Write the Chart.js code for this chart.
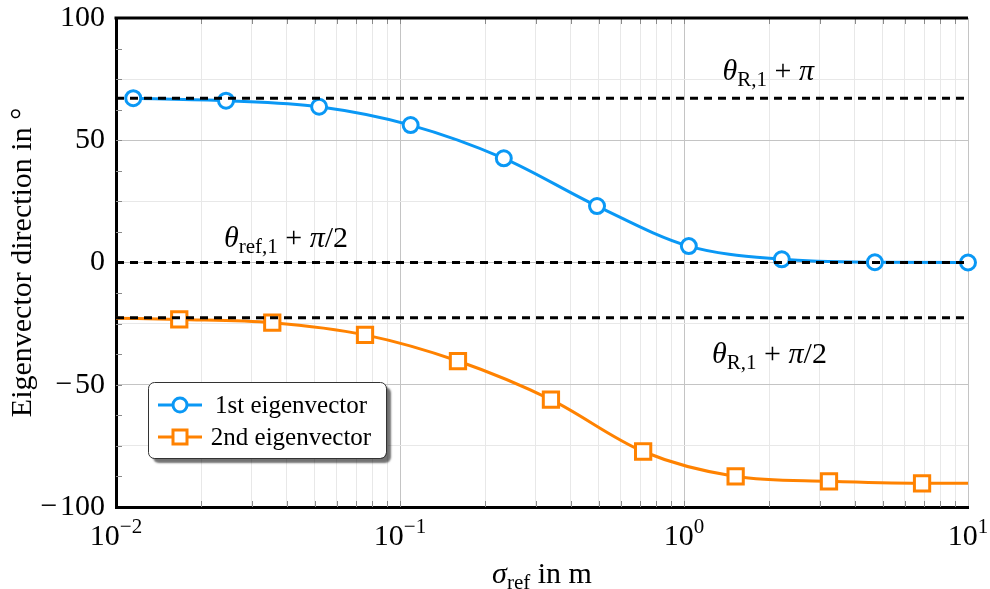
<!DOCTYPE html>
<html lang="en">
<head>
<meta charset="UTF-8">
<title>Eigenvector direction vs sigma_ref</title>
<script src="https://cdn.jsdelivr.net/npm/chart.js"></script>
<style>
  html, body { margin: 0; padding: 0; background: #fff; }
</style>
</head>
<body>
<canvas id="eigenChart" width="990" height="589"></canvas>
<script>
// sigma_ref (m) and direction (deg) of the 1st eigenvector
const firstX = [0.0115, 0.0244, 0.0519, 0.109, 0.232, 0.494, 1.04, 2.21, 4.70, 10];
const firstY = [67.2, 66.2, 63.7, 56.2, 42.6, 23.1, 6.7, 1.3, 0.1, 0.0];

// 2nd eigenvector (first and last samples have no marker)
const secondX = [0.01, 0.0167, 0.0355, 0.0753, 0.160, 0.340, 0.718, 1.52, 3.24, 6.89, 10];
const secondY = [-22.8, -23.3, -24.6, -29.6, -40.3, -56.1, -77.3, -87.5, -89.5, -90.3, -90.3];
const secondMarks = [0, 1, 1, 1, 1, 1, 1, 1, 1, 1, 0];

// reference directions: theta_R,1 + pi, theta_ref,1 + pi/2, theta_R,1 + pi/2
const refLevels = [67.2, 0, -22.6];

// axes
const xDecades = [0.01, 0.1, 1, 10];
const xDecadeExp = ['\u22122', '\u22121', '0', '1'];
const xMinorFactors = [2, 3, 4, 5, 6, 7, 8, 9];
const yMin = -100, yMax = 100, yStep = 12.5, yLabelStep = 50;

const BLUE = '#0a98f5';
const ORANGE = '#ff8200';
const SERIF = "'Liberation Serif', 'DejaVu Serif', serif";

const xTickValues = [];
xDecades.forEach((d, i) => {
  xTickValues.push(d);
  if (i < xDecades.length - 1) xMinorFactors.forEach(f => xTickValues.push(d * f));
});
const isDecade = v => xDecades.some(d => Math.abs(v - d) / d < 1e-6);

// draw a run of text pieces: {t, size, italic, dy}
function drawPieces(ctx, pieces, x, y, align) {
  let total = 0;
  pieces.forEach(p => {
    ctx.font = (p.italic ? 'italic ' : '') + p.size + 'px ' + SERIF;
    p.w = ctx.measureText(p.t).width;
    total += p.w;
  });
  let cx = align === 'center' ? x - total / 2 : x;
  ctx.textAlign = 'left';
  ctx.textBaseline = 'alphabetic';
  pieces.forEach(p => {
    ctx.font = (p.italic ? 'italic ' : '') + p.size + 'px ' + SERIF;
    ctx.fillText(p.t, cx, y + (p.dy || 0));
    cx += p.w;
  });
}

const decorPlugin = {
  id: 'decor',
  beforeDatasetsDraw(chart) {
    const {ctx, chartArea: a, scales: {x, y}} = chart;
    ctx.save();
    ctx.strokeStyle = '#8a8a8a';
    ctx.lineWidth = 1;
    ctx.beginPath();
    for (let v = yMin + yStep; v < yMax; v += yStep) {
      const py = Math.round(y.getPixelForValue(v)) + 0.5;
      ctx.moveTo(a.left, py); ctx.lineTo(a.left + 6, py);
    }
    xTickValues.forEach(v => {
      if (v <= xDecades[0] || v >= xDecades[xDecades.length - 1]) return;
      const px = Math.round(x.getPixelForValue(v)) + 0.5;
      ctx.moveTo(px, a.bottom); ctx.lineTo(px, a.bottom - 6);
      ctx.moveTo(px, a.top); ctx.lineTo(px, a.top + 6);
    });
    ctx.stroke();
    // top frame line
    ctx.strokeStyle = '#000';
    ctx.lineWidth = 3;
    ctx.beginPath();
    ctx.moveTo(a.left - 1.5, a.top); ctx.lineTo(a.right, a.top);
    ctx.stroke();
    ctx.restore();
  },
  afterDraw(chart) {
    const {ctx, chartArea: a, scales: {x, y}} = chart;
    ctx.save();
    ctx.fillStyle = '#000';

    // x tick labels 10^n
    xDecades.forEach((d, i) => {
      drawPieces(ctx, [
        {t: '10', size: 30},
        {t: xDecadeExp[i], size: 21, dy: -12}
      ], x.getPixelForValue(d), a.bottom + 38, 'center');
    });

    // x axis title
    drawPieces(ctx, [
      {t: '\u03c3', size: 30, italic: true},
      {t: 'ref', size: 21, dy: 6},
      {t: ' in m', size: 30}
    ], (a.left + a.right) / 2, a.bottom + 76, 'center');

    // reference line labels
    drawPieces(ctx, [
      {t: '\u03b8', size: 30, italic: true},
      {t: 'R,1', size: 21, dy: 6},
      {t: ' + ', size: 30},
      {t: '\u03c0', size: 30, italic: true}
    ], x.getPixelForValue(1.98), y.getPixelForValue(74.6), 'center');
    drawPieces(ctx, [
      {t: '\u03b8', size: 30, italic: true},
      {t: 'ref,1', size: 21, dy: 6},
      {t: ' + ', size: 30},
      {t: '\u03c0', size: 30, italic: true},
      {t: '/2', size: 30}
    ], x.getPixelForValue(0.0397), y.getPixelForValue(6.3), 'center');
    drawPieces(ctx, [
      {t: '\u03b8', size: 30, italic: true},
      {t: 'R,1', size: 21, dy: 6},
      {t: ' + ', size: 30},
      {t: '\u03c0', size: 30, italic: true},
      {t: '/2', size: 30}
    ], x.getPixelForValue(2.0), y.getPixelForValue(-41.1), 'center');

    // legend box with drop shadow
    const lx = a.left + 32, ly = a.bottom - 125, lw = 238, lh = 76;
    ctx.save();
    ctx.shadowColor = 'rgba(0,0,0,0.55)';
    ctx.shadowOffsetX = 5;
    ctx.shadowOffsetY = 5;
    ctx.shadowBlur = 2;
    ctx.beginPath();
    ctx.roundRect(lx, ly, lw, lh, 6);
    ctx.fillStyle = '#fff';
    ctx.fill();
    ctx.restore();
    ctx.beginPath();
    ctx.roundRect(lx + 0.5, ly + 0.5, lw, lh, 6);
    ctx.strokeStyle = '#333';
    ctx.lineWidth = 1;
    ctx.stroke();

    const rows = [
      {label: '1st eigenvector', color: BLUE, shape: 'circle', cy: ly + 23},
      {label: '2nd eigenvector', color: ORANGE, shape: 'square', cy: ly + 55}
    ];
    rows.forEach(r => {
      ctx.strokeStyle = r.color;
      ctx.lineWidth = 3;
      ctx.beginPath();
      ctx.moveTo(lx + 10, r.cy); ctx.lineTo(lx + 54, r.cy);
      ctx.stroke();
      ctx.fillStyle = '#fff';
      ctx.beginPath();
      if (r.shape === 'circle') ctx.arc(lx + 32, r.cy, 7, 0, Math.PI * 2);
      else ctx.rect(lx + 25, r.cy - 7, 14, 14);
      ctx.fill(); ctx.stroke();
      ctx.fillStyle = '#000';
      ctx.font = '25px ' + SERIF;
      ctx.textAlign = 'center';
      ctx.textBaseline = 'middle';
      ctx.fillText(r.label, lx + 143, r.cy + 1);
    });
    ctx.restore();
  }
};

const refDatasets = refLevels.map(v => ({
  data: [{x: xDecades[0], y: v}, {x: xDecades[xDecades.length - 1], y: v}],
  borderColor: '#000',
  borderWidth: 3,
  borderDash: [8, 6],
  pointRadius: 0,
  order: 0
}));

new Chart(document.getElementById('eigenChart'), {
  type: 'line',
  data: {
    datasets: [
      {
        label: '1st eigenvector',
        data: firstX.map((v, i) => ({x: v, y: firstY[i]})),
        borderColor: BLUE,
        borderWidth: 3,
        cubicInterpolationMode: 'monotone',
        pointStyle: 'circle',
        pointRadius: 7.5,
        pointBorderWidth: 3,
        pointBackgroundColor: '#fff',
        pointBorderColor: BLUE,
        clip: false,
        order: 1
      },
      {
        label: '2nd eigenvector',
        data: secondX.map((v, i) => ({x: v, y: secondY[i]})),
        borderColor: ORANGE,
        borderWidth: 3,
        cubicInterpolationMode: 'monotone',
        pointStyle: 'rect',
        pointRadius: secondMarks.map(m => m ? 10.8 : 0),
        pointBorderWidth: 3,
        pointBackgroundColor: '#fff',
        pointBorderColor: ORANGE,
        clip: false,
        order: 1
      },
      ...refDatasets
    ]
  },
  options: {
    responsive: false,
    animation: false,
    events: [],
    layout: {padding: {top: 18, right: 22, left: 0, bottom: 0}},
    plugins: {legend: {display: false}, tooltip: {enabled: false}},
    scales: {
      x: {
        type: 'logarithmic',
        min: xDecades[0],
        max: xDecades[xDecades.length - 1],
        afterBuildTicks: s => { s.ticks = xTickValues.map(v => ({value: v})); },
        afterFit: s => { s.height = 82; s.paddingLeft = 0; s.paddingRight = 0; },
        ticks: {display: false},
        grid: {
          drawTicks: false,
          color: c => isDecade(c.tick.value) ? '#c4c4c4' : '#e8e8e8',
          lineWidth: 1
        },
        border: {color: '#000', width: 3}
      },
      y: {
        min: yMin,
        max: yMax,
        afterFit: s => { s.width = 116; s.paddingTop = 0; s.paddingBottom = 0; },
        ticks: {
          stepSize: yStep,
          padding: 11,
          color: '#000',
          font: {family: SERIF, size: 30},
          callback: v => v % yLabelStep === 0 ? String(v).replace('-', '\u2212\u200a') : ''
        },
        grid: {
          drawTicks: false,
          color: c => c.tick.value % yLabelStep === 0 ? '#c4c4c4' : '#e8e8e8',
          lineWidth: 1
        },
        border: {color: '#000', width: 3},
        title: {
          display: true,
          text: 'Eigenvector direction in \u00b0',
          color: '#000',
          font: {family: SERIF, size: 30},
          padding: {top: 5, bottom: 0}
        }
      }
    }
  },
  plugins: [decorPlugin]
});
</script>
</body>
</html>
